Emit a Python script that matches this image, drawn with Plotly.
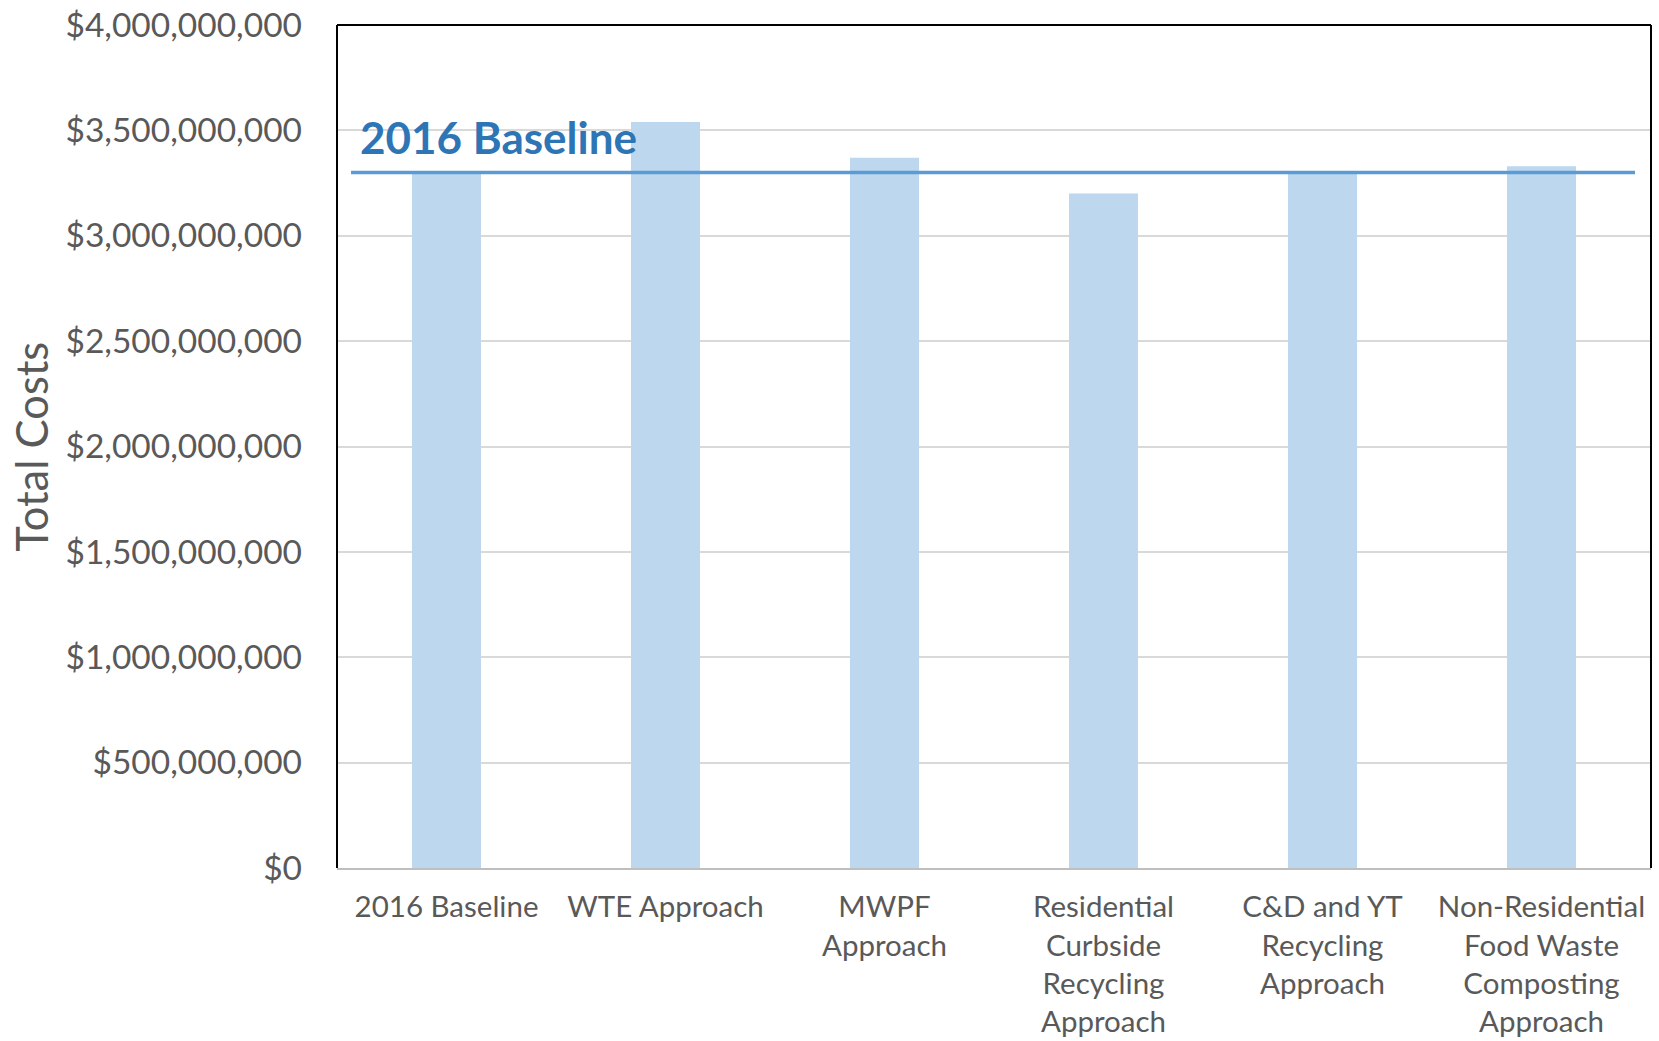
import plotly.graph_objects as go

# Scenario categories (multi-line axis labels)
categories = [
    "2016 Baseline",
    "WTE Approach",
    "MWPF<br>Approach",
    "Residential<br>Curbside<br>Recycling<br>Approach",
    "C&D and YT<br>Recycling<br>Approach",
    "Non-Residential<br>Food Waste<br>Composting<br>Approach",
]
total_costs = [3.30e9, 3.54e9, 3.37e9, 3.20e9, 3.30e9, 3.33e9]
baseline_cost = 3.30e9

tick_values = [0, 0.5e9, 1.0e9, 1.5e9, 2.0e9, 2.5e9, 3.0e9, 3.5e9, 4.0e9]
tick_labels = ["$0", "$500,000,000", "$1,000,000,000", "$1,500,000,000",
               "$2,000,000,000", "$2,500,000,000", "$3,000,000,000",
               "$3,500,000,000", "$4,000,000,000"]

FONT = "Lato, 'Open Sans', sans-serif"
GRAY = "#595959"

fig = go.Figure()
fig.add_trace(go.Bar(
    x=categories,
    y=total_costs,
    marker=dict(color="#BDD7EE", line=dict(width=0)),
    hoverinfo="x+y",
))

fig.update_layout(
    width=1659,
    height=1041,
    margin=dict(l=337, r=8, t=25, b=173),
    paper_bgcolor="white",
    plot_bgcolor="white",
    showlegend=False,
    bargap=0.685,
    font=dict(family=FONT, color=GRAY),
)

fig.update_xaxes(
    type="category",
    tickfont=dict(family=FONT, size=29.5, color=GRAY),
    showline=True, linecolor="#BFBFBF", linewidth=2,
    showgrid=False, ticks="", ticklabelstandoff=12,
    automargin=False,
)
fig.update_yaxes(
    range=[0, 4.0e9],
    tickvals=tick_values,
    ticktext=tick_labels,
    tickfont=dict(family=FONT, size=33.5, color=GRAY),
    showgrid=True, gridcolor="#D9D9D9", gridwidth=2,
    zeroline=False, showline=False, ticks="", ticklabelstandoff=34,
    automargin=False,
)

# Plot-area frame: left, top and right edges
for x0, y0, x1, y1 in [(0, 0, 0, 1), (0, 1, 1, 1), (1, 0, 1, 1)]:
    fig.add_shape(type="line", xref="paper", yref="paper",
                  x0=x0, y0=y0, x1=x1, y1=y1,
                  line=dict(color="black", width=2))

# 2016 baseline reference line
fig.add_shape(type="line", xref="x", yref="y",
              x0=-0.436, x1=5.427, y0=baseline_cost, y1=baseline_cost,
              line=dict(color="#5B9BD5", width=3.5))

fig.add_annotation(
    text="<b>2016 Baseline</b>", xref="paper", yref="y",
    x=0.016, y=baseline_cost, xanchor="left", yanchor="bottom",
    yshift=8, showarrow=False,
    font=dict(family=FONT, size=44, color="#2E75B6"),
)

fig.add_annotation(
    text="Total Costs", xref="paper", yref="paper",
    x=-0.2335, y=0.5, xanchor="center", yanchor="middle",
    textangle=-90, showarrow=False,
    font=dict(family=FONT, size=43.5, color=GRAY),
)

fig.write_html("out.html")
